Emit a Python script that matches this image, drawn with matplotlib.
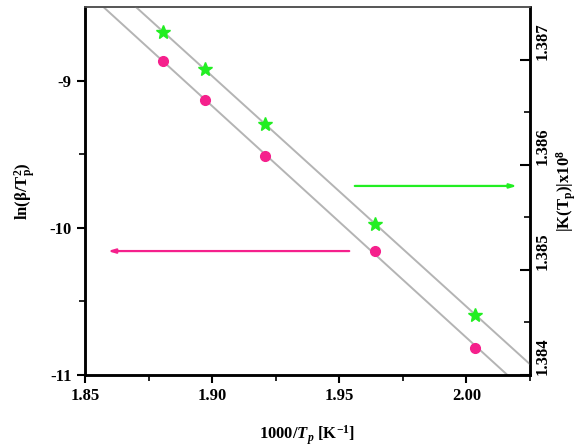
import numpy as np
import matplotlib
matplotlib.use("Agg")
import matplotlib.pyplot as plt

# data
invT = [1.8808, 1.8970, 1.9206, 1.9642, 2.0035]
lnBetaT2 = [-8.864, -9.131, -9.510, -10.156, -10.814]
kTp = [1.387264, 1.386913, 1.386388, 1.385439, 1.384573]

plt.rcParams['font.family'] = ['Liberation Serif', 'DejaVu Serif']
plt.rcParams['font.weight'] = 'bold'
plt.rcParams['mathtext.fontset'] = 'custom'
plt.rcParams['mathtext.rm'] = 'Liberation Serif:bold'
plt.rcParams['mathtext.it'] = 'Liberation Serif:italic:bold'
plt.rcParams['mathtext.bf'] = 'Liberation Serif:bold'

fig = plt.figure(figsize=(5.8, 4.47), dpi=100)
ax = fig.add_axes([0.1466, 0.161, 0.7672, 0.823])
ax2 = ax.twinx()

xlim = (1.85, 2.025)
xs = np.linspace(xlim[0], xlim[1], 50)

# fit lines
p1 = np.polyfit(invT, lnBetaT2, 1)
p2 = np.polyfit(invT, kTp, 1)
ax.plot(xs, np.polyval(p1, xs), color='#b4b4b4', lw=1.4, zorder=1)
ax2.plot(xs, np.polyval(p2, xs), color='#b4b4b4', lw=1.4, zorder=1)

ax.plot(invT, lnBetaT2, 'o', color='#f5208c', ms=7, mec='#f5208c', zorder=3)
ax2.plot(invT, kTp, '*', color='#22ee22', ms=10, mec='#22ee22', zorder=3)

ax.set_xlim(*xlim)
ax.set_ylim(-11, -8.5)
ax2.set_ylim(1.384, 1.3875)

ax.set_xticks([1.85, 1.90, 1.95, 2.00])
ax.set_xticks([1.875, 1.925, 1.975, 2.025], minor=True)
ax.set_xticklabels(['1.85', '1.90', '1.95', '2.00'])
ax.set_yticks([-11, -10, -9])
ax.set_yticks([-10.5, -9.5], minor=True)
ax.set_yticklabels(['-11', '-10', '-9'])
ax2.set_yticks([1.384, 1.385, 1.386, 1.387])
ax2.set_yticks([1.3845, 1.3855, 1.3865], minor=True)
ax2.set_yticklabels(['1.384', '1.385', '1.386', '1.387'], rotation=90, va='bottom')

ax.tick_params(axis='both', which='major', direction='out', length=6, width=1.5,
               labelsize=12, top=False, right=False)
ax.tick_params(axis='both', which='minor', direction='out', length=4, width=1.2,
               top=False, right=False)
ax2.tick_params(axis='y', which='major', direction='in', length=7, width=1.5, labelsize=12, pad=3)
ax2.tick_params(axis='y', which='minor', direction='in', length=4, width=1.2)

for a in (ax, ax2):
    for side in ('left', 'right', 'bottom'):
        a.spines[side].set_linewidth(1.8)
    a.spines['top'].set_linewidth(1.2)
    a.spines['top'].set_color('#555555')

ax.set_xlabel(r'1000/$\mathit{T}_{\mathit{p}}$ [K$^{-1}$]', fontsize=12, fontweight='bold', labelpad=14)
ax.set_ylabel(r'ln(β/T$_\mathrm{p}^2$)', fontsize=12, fontweight='bold', labelpad=8)
ax2.set_ylabel(r'|K(T$_\mathrm{p}$)|x10$^8$', fontsize=12, fontweight='bold', rotation=90, labelpad=3)

# arrows pointing to the axes
ax.annotate('', xy=(0.977, 0.514), xytext=(0.60, 0.514), xycoords='axes fraction',
            arrowprops=dict(arrowstyle='-|>,head_length=0.4,head_width=0.12',
                            color='#22ee22', lw=1.6))
ax.annotate('', xy=(0.045, 0.337), xytext=(0.60, 0.337), xycoords='axes fraction',
            arrowprops=dict(arrowstyle='-|>,head_length=0.4,head_width=0.12',
                            color='#f5208c', lw=1.6))

fig.savefig('out.png', dpi=100)
